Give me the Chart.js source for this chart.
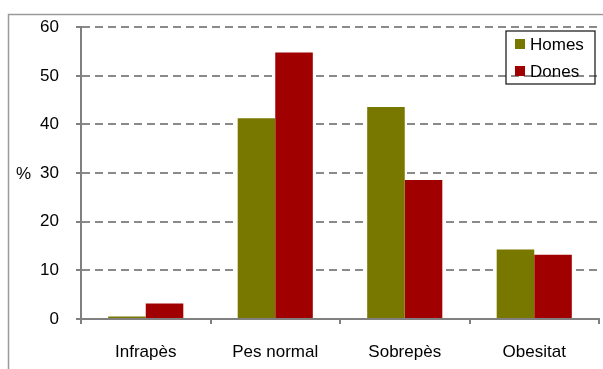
<!DOCTYPE html>
<html>
<head>
<meta charset="utf-8">
<script src="https://cdn.jsdelivr.net/npm/chart.js@4.4.1/dist/chart.umd.min.js"></script>
<style>
  html, body { margin: 0; padding: 0; background: #fff; }
  #contenidor { width: 603px; height: 369px; }
</style>
</head>
<body>
<div id="contenidor"><canvas id="grafic"></canvas></div>
<script>
/* DADES */
const categories = ["Infrapès", "Pes normal", "Sobrepès", "Obesitat"];
const homes = [0.5, 41.3, 43.6, 14.3];
const dones = [3.2, 54.8, 28.6, 13.2];
const etiquetaSerieHomes = "Homes";
const etiquetaSerieDones = "Dones";
const colorHomes = "#787800";
const colorDones = "#a00000";
const titolEixY = "%";

const font = { family: "Arial, 'Liberation Sans', sans-serif", size: 17 };

// MARC EXTERIOR DEL GRAFIC
const marcPlugin = {
  id: "marc",
  beforeDraw(chart) {
    const ctx = chart.ctx;
    ctx.save();
    ctx.strokeStyle = "#9a9a9a";
    ctx.lineWidth = 1.5;
    ctx.strokeRect(8.5, 14.5, 700, 400);
    ctx.restore();
  }
};

// TEXT "%" AL COSTAT DEL 30 I LLEGENDA DINS DEL GRAFIC
const extresPlugin = {
  id: "extres",
  afterDraw(chart) {
    const ctx = chart.ctx;
    const y = chart.scales.y;
    ctx.save();
    ctx.font = font.size + "px " + font.family;
    ctx.fillStyle = "#000";
    ctx.textBaseline = "middle";
    ctx.textAlign = "left";
    ctx.fillText(titolEixY, 16, y.getPixelForValue(30) + 1);

    // llegenda
    ctx.strokeStyle = "#222";
    ctx.lineWidth = 1.3;
    ctx.strokeRect(506, 31, 89, 53);
    chart.data.datasets.forEach((ds, i) => {
      const yy = 44.5 + i * 27;
      ctx.fillStyle = ds.backgroundColor;
      ctx.fillRect(515, yy - 5.5, 10, 10);
      ctx.fillStyle = "#000";
      ctx.fillText(ds.label, 530, yy + 1);
    });
    ctx.restore();
  }
};

const config = {
  type: "bar",
  data: {
    labels: categories,
    datasets: [
      { label: etiquetaSerieHomes, data: homes, backgroundColor: colorHomes },
      { label: etiquetaSerieDones, data: dones, backgroundColor: colorDones }
    ]
  },
  options: {
    responsive: true,
    maintainAspectRatio: false,
    animation: false,
    layout: { padding: { left: 0, right: 4, top: 24, bottom: 0 } },
    datasets: { bar: { categoryPercentage: 0.58, barPercentage: 1.0 } },
    plugins: { legend: { display: false }, tooltip: { enabled: false } },
    scales: {
      x: {
        grid: {
          offset: true,
          drawOnChartArea: false,
          drawTicks: true,
          tickLength: 5,
          color: "#808080",
          lineWidth: 2
        },
        border: { color: "#808080", width: 2 },
        ticks: { color: "#000", font: font, padding: 18 },
        afterFit(scale) { scale.height = 50; }
      },
      y: {
        min: 0,
        max: 60,
        ticks: { stepSize: 10, color: "#000", font: font, padding: 17 },
        grid: {
          color: "#8a8a8a",
          lineWidth: 2,
          tickLength: 5,
          tickColor: "#808080",
          tickBorderDash: []
        },
        border: { color: "#808080", width: 2, dash: [8, 5] },
        afterFit(scale) { scale.width = 81; }
      }
    }
  },
  plugins: [marcPlugin, extresPlugin]
};

const grafic = new Chart(document.getElementById("grafic"), config);
</script>
</body>
</html>
